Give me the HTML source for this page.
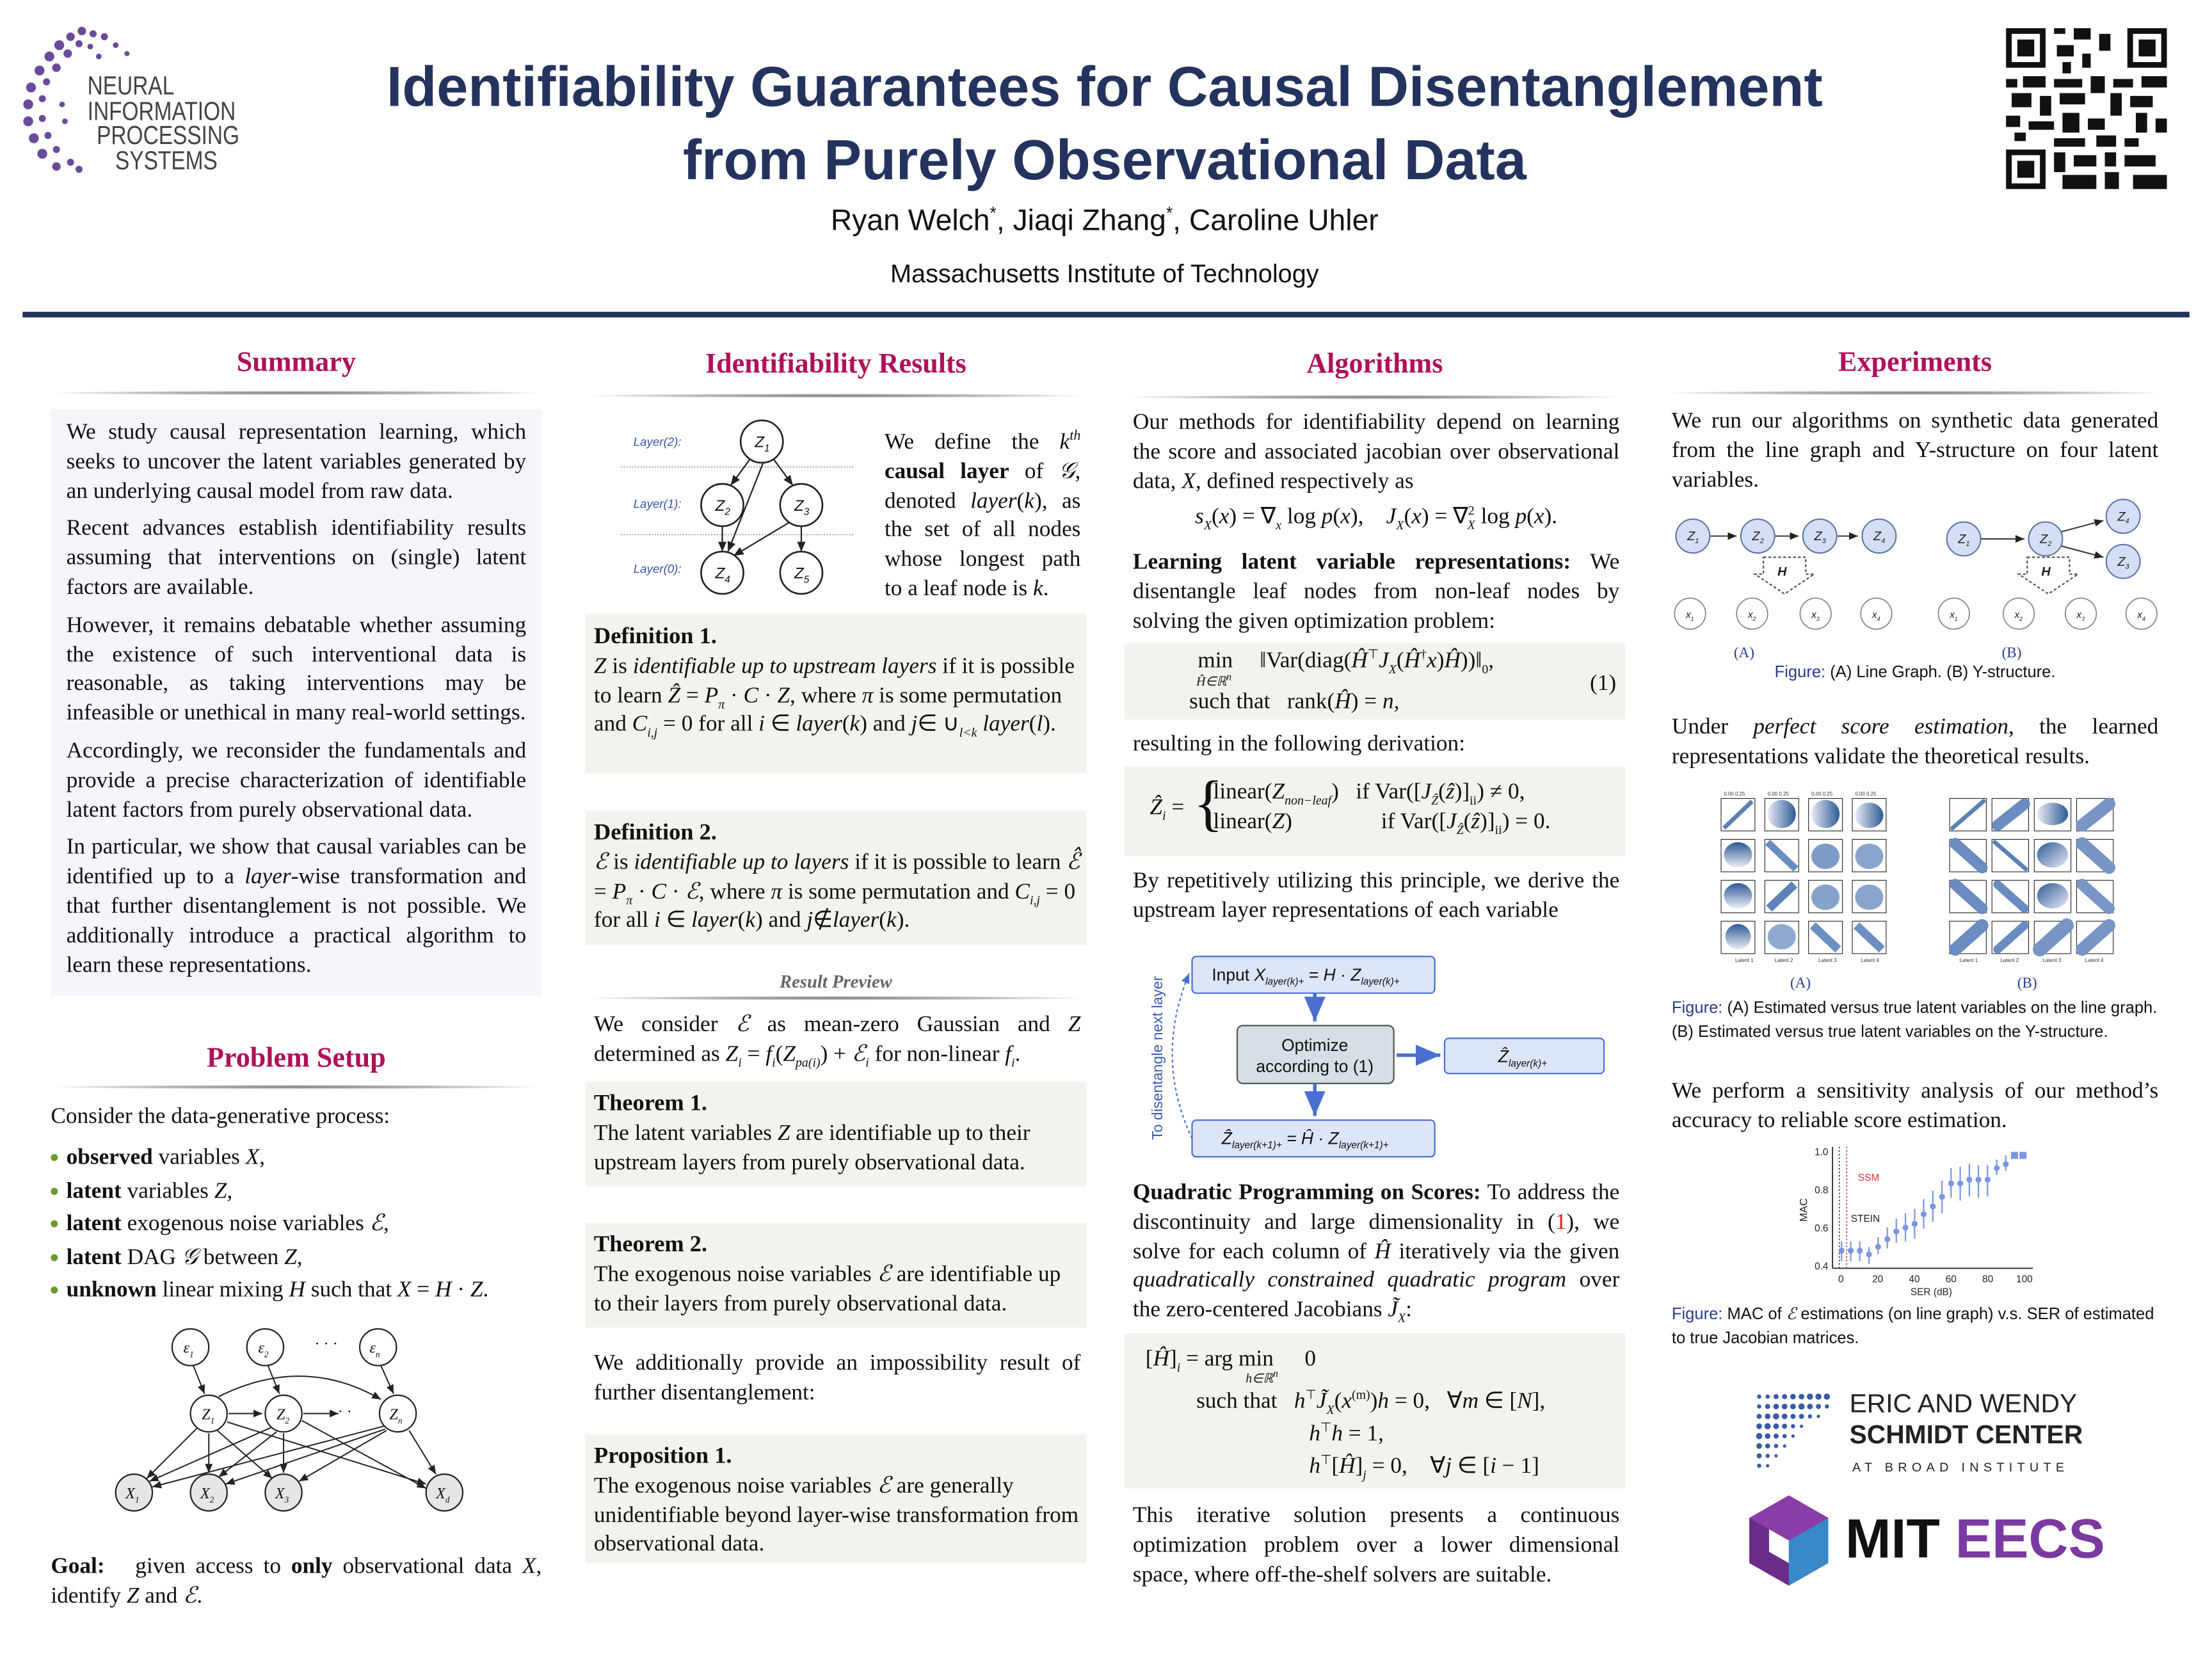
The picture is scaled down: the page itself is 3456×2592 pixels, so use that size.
<!DOCTYPE html>
<html><head><meta charset="utf-8">
<style>
html,body{margin:0;padding:0;background:#fff;}
body{width:3456px;height:2592px;overflow:hidden;position:relative;}
#p{position:absolute;left:0;top:0;width:1568px;height:1176px;transform:scale(2.2041);transform-origin:0 0;font-family:"Liberation Serif",serif;color:#111;}
.a{position:absolute;}
.t{font-family:"Liberation Serif",serif;font-size:16px;line-height:20.8px;text-align:justify;}
.t p{margin:0 0 6px 0;}
sub,sup{line-height:0;}
.h{position:absolute;font-family:"Liberation Serif",serif;font-weight:bold;color:#b0105a;font-size:20px;text-align:center;}
.sh{position:absolute;height:3px;border-radius:50%;background:radial-gradient(ellipse at center,#777 0%,#bbb 45%,rgba(255,255,255,0) 75%);}
.box{position:absolute;background:#f3f2ee;}
.sans{font-family:"Liberation Sans",sans-serif;}
.cap{font-family:"Liberation Sans",sans-serif;font-size:11.6px;line-height:16.5px;color:#111;}
.cap b{font-weight:normal;color:#2a3d8f;}
i{font-style:italic;}
</style></head><body><div id="p">

<svg class="a" style="left:0;top:0" width="1568" height="1176" viewBox="0 0 1568 1176">
<defs>
<marker id="ar" markerWidth="8" markerHeight="8" refX="7" refY="4" orient="auto"><path d="M0,1 L7,4 L0,7 z" fill="#222"/></marker>
<marker id="ab" markerWidth="8" markerHeight="8" refX="7" refY="4" orient="auto"><path d="M0,1 L7,4 L0,7 z" fill="#4a6fd0"/></marker>
<linearGradient id="g1" x1="0" y1="1" x2="0" y2="0"><stop offset="0" stop-color="#eceef6"/><stop offset="1" stop-color="#2d5a96"/></linearGradient>
<linearGradient id="g2" x1="0" y1="0" x2="1" y2="0"><stop offset="0" stop-color="#e8ebf5"/><stop offset="1" stop-color="#2d5a96"/></linearGradient>
<linearGradient id="g3" x1="0" y1="0" x2="1" y2="1"><stop offset="0" stop-color="#2d5a96"/><stop offset="1" stop-color="#e8ebf5"/></linearGradient>
</defs>
<g fill="#6b4a9a">
<circle cx="58" cy="22" r="3"/><circle cx="66" cy="24" r="2.5"/><circle cx="74" cy="26" r="2.5"/><circle cx="50" cy="26" r="3"/><circle cx="42" cy="32" r="3.5"/><circle cx="56" cy="31" r="2.5"/><circle cx="64" cy="33" r="2"/><circle cx="82" cy="32" r="2"/><circle cx="35" cy="40" r="3.5"/><circle cx="48" cy="38" r="3"/><circle cx="28" cy="50" r="3.5"/><circle cx="40" cy="48" r="3"/><circle cx="22" cy="62" r="3.5"/><circle cx="33" cy="58" r="2.5"/><circle cx="20" cy="74" r="3.5"/><circle cx="30" cy="70" r="2.5"/><circle cx="20" cy="86" r="3.5"/><circle cx="30" cy="84" r="2.5"/><circle cx="24" cy="98" r="3.5"/><circle cx="34" cy="96" r="2.5"/><circle cx="30" cy="109" r="3.5"/><circle cx="40" cy="106" r="2.5"/><circle cx="40" cy="118" r="3"/><circle cx="50" cy="115" r="2.5"/><circle cx="56" cy="120" r="2.5"/><circle cx="90" cy="38" r="1.8"/><circle cx="70" cy="40" r="2"/><circle cx="46" cy="86" r="2"/><circle cx="44" cy="74" r="2"/>
</g>
<g fill="#111">
<rect x="1422" y="20" width="28" height="28"/><rect x="1426" y="24" width="20" height="20" fill="#fff"/><rect x="1430" y="28" width="12" height="12"/>
<rect x="1508" y="20" width="28" height="28"/><rect x="1512" y="24" width="20" height="20" fill="#fff"/><rect x="1516" y="28" width="12" height="12"/>
<rect x="1422" y="106" width="28" height="28"/><rect x="1426" y="110" width="20" height="20" fill="#fff"/><rect x="1430" y="114" width="12" height="12"/>
<rect x="1456" y="20" width="8" height="4"/><rect x="1470" y="20" width="12" height="8"/><rect x="1488" y="24" width="8" height="12"/><rect x="1458" y="32" width="12" height="8"/><rect x="1476" y="38" width="6" height="10"/><rect x="1462" y="44" width="6" height="8"/>
<rect x="1422" y="56" width="8" height="6"/><rect x="1434" y="54" width="16" height="8"/><rect x="1456" y="56" width="20" height="6"/><rect x="1482" y="54" width="10" height="12"/><rect x="1498" y="56" width="14" height="6"/><rect x="1518" y="54" width="18" height="8"/>
<rect x="1426" y="66" width="14" height="10"/><rect x="1446" y="68" width="8" height="14"/><rect x="1460" y="66" width="18" height="8"/><rect x="1496" y="66" width="8" height="16"/><rect x="1510" y="68" width="16" height="8"/>
<rect x="1422" y="82" width="10" height="8"/><rect x="1438" y="86" width="18" height="6"/><rect x="1462" y="80" width="12" height="14"/><rect x="1480" y="84" width="12" height="8"/><rect x="1514" y="80" width="8" height="14"/><rect x="1528" y="84" width="8" height="10"/>
<rect x="1428" y="94" width="8" height="6"/><rect x="1456" y="98" width="22" height="6"/><rect x="1486" y="96" width="14" height="8"/><rect x="1506" y="98" width="10" height="6"/>
<rect x="1456" y="108" width="8" height="14"/><rect x="1470" y="110" width="16" height="8"/><rect x="1492" y="108" width="8" height="10"/><rect x="1506" y="110" width="22" height="8"/><rect x="1462" y="124" width="24" height="10"/><rect x="1492" y="122" width="10" height="12"/><rect x="1512" y="124" width="24" height="10"/>
</g>
<rect x="16" y="221" width="1536" height="4" fill="#24335e"/>

<g font-family="Liberation Sans,sans-serif" font-style="italic" font-size="8.5" fill="#3a56a0">
<text x="449" y="316">Layer(2):</text><text x="449" y="360">Layer(1):</text><text x="449" y="406">Layer(0):</text></g>
<line x1="440" y1="331" x2="605" y2="331" stroke="#8fa2d0" stroke-width="0.8" stroke-dasharray="1,1"/>
<line x1="440" y1="379" x2="605" y2="379" stroke="#8fa2d0" stroke-width="0.8" stroke-dasharray="1,1"/>
<g stroke="#222" stroke-width="1" fill="none" marker-end="url(#ar)">
<line x1="532" y1="325" x2="518" y2="344"/><line x1="548" y1="325" x2="562" y2="344"/><line x1="541" y1="328" x2="516" y2="391"/><line x1="512" y1="373" x2="512" y2="391"/><line x1="560" y1="370" x2="520" y2="394"/><line x1="568" y1="373" x2="568" y2="391"/></g>
<g fill="#fff" stroke="#222" stroke-width="1.2"><circle cx="540" cy="313" r="15"/><circle cx="512" cy="358" r="15"/><circle cx="568" cy="358" r="15"/><circle cx="512" cy="406" r="15"/><circle cx="568" cy="406" r="15"/></g>
<g font-family="Liberation Sans,sans-serif" font-style="italic" font-size="11" fill="#111">
<text x="535" y="317">Z<tspan font-size="7" dy="3">1</tspan></text><text x="507" y="362">Z<tspan font-size="7" dy="3">2</tspan></text><text x="563" y="362">Z<tspan font-size="7" dy="3">3</tspan></text><text x="507" y="410">Z<tspan font-size="7" dy="3">4</tspan></text><text x="563" y="410">Z<tspan font-size="7" dy="3">5</tspan></text></g>

<g stroke="#222" stroke-width="0.9" fill="none" marker-end="url(#ar)">
<line x1="137" y1="968" x2="145" y2="988"/><line x1="190" y1="968" x2="198" y2="988"/><line x1="270" y1="968" x2="279" y2="988"/>
<line x1="162" y1="1002" x2="186" y2="1002"/><path d="M155,990 Q215,960 270,992"/>
<line x1="215" y1="1002" x2="240" y2="1002"/>
<line x1="140" y1="1012" x2="104" y2="1048"/><line x1="148" y1="1016" x2="148" y2="1044"/><line x1="154" y1="1014" x2="193" y2="1048"/><line x1="161" y1="1008" x2="302" y2="1052"/>
<line x1="192" y1="1012" x2="106" y2="1050"/><line x1="196" y1="1015" x2="155" y2="1047"/><line x1="201" y1="1016" x2="201" y2="1044"/><line x1="214" y1="1007" x2="302" y2="1055"/>
<line x1="272" y1="1011" x2="108" y2="1054"/><line x1="273" y1="1013" x2="160" y2="1052"/><line x1="274" y1="1014" x2="212" y2="1050"/><line x1="290" y1="1014" x2="309" y2="1045"/>
</g>
<g fill="#fff" stroke="#222" stroke-width="1"><circle cx="135" cy="955" r="13"/><circle cx="188" cy="955" r="13"/><circle cx="268" cy="955" r="13"/><circle cx="148" cy="1002" r="13"/><circle cx="201" cy="1002" r="13"/><circle cx="282" cy="1002" r="13"/></g>
<g fill="#e6e6e6" stroke="#222" stroke-width="1"><circle cx="95" cy="1058" r="13"/><circle cx="148" cy="1058" r="13"/><circle cx="201" cy="1058" r="13"/><circle cx="315" cy="1058" r="13"/></g>
<g font-family="Liberation Serif,serif" font-style="italic" font-size="11" fill="#111">
<text x="130" y="959">ε<tspan font-size="6" dy="3">1</tspan></text><text x="183" y="959">ε<tspan font-size="6" dy="3">2</tspan></text><text x="262" y="959">ε<tspan font-size="6" dy="3">n</tspan></text><text x="223" y="956" font-style="normal">· · ·</text>
<text x="143" y="1006">Z<tspan font-size="6" dy="3">1</tspan></text><text x="196" y="1006">Z<tspan font-size="6" dy="3">2</tspan></text><text x="276" y="1006">Z<tspan font-size="6" dy="3">n</tspan></text><text x="233" y="1004" font-style="normal">· · ·</text>
<text x="89" y="1062">X<tspan font-size="6" dy="3">1</tspan></text><text x="142" y="1062">X<tspan font-size="6" dy="3">2</tspan></text><text x="195" y="1062">X<tspan font-size="6" dy="3">3</tspan></text><text x="309" y="1062">X<tspan font-size="6" dy="3">d</tspan></text></g>

<rect x="845" y="678" width="172" height="26" rx="3" fill="#dde6f8" stroke="#4a6fd0"/>
<rect x="877" y="727" width="111" height="41" rx="4" fill="#d6dfe3" stroke="#555"/>
<rect x="1024" y="736" width="113" height="25" rx="3" fill="#dde6f8" stroke="#4a6fd0"/>
<rect x="845" y="794" width="172" height="26" rx="3" fill="#dde6f8" stroke="#4a6fd0"/>
<g stroke="#4a6fd0" stroke-width="2.5" marker-end="url(#ab)"><line x1="932" y1="704" x2="932" y2="724"/><line x1="932" y1="768" x2="932" y2="791"/><line x1="990" y1="748" x2="1021" y2="748"/></g>
<path d="M845,807 Q818,750 843,690" fill="none" stroke="#4a6fd0" stroke-dasharray="2,2" marker-end="url(#ab)"/>
<text transform="translate(824,808) rotate(-90)" font-family="Liberation Sans,sans-serif" font-size="10.5" fill="#3a5ab8">To disentangle next layer</text>
<g font-family="Liberation Sans,sans-serif" font-size="12" fill="#111">
<text x="859" y="695">Input <tspan font-style="italic">X</tspan><tspan font-size="7" font-style="italic" dy="3">layer(k)+</tspan><tspan dy="-3"> = </tspan><tspan font-style="italic">H · Z</tspan><tspan font-size="7" font-style="italic" dy="3">layer(k)+</tspan></text>
<text x="932" y="745" text-anchor="middle">Optimize</text><text x="932" y="760" text-anchor="middle">according to (1)</text>
<text x="1062" y="753" font-style="italic">Ẑ<tspan font-size="7" dy="3">layer(k)+</tspan></text>
<text x="866" y="811" font-style="italic">Ẑ<tspan font-size="7" dy="3">layer(k+1)+</tspan><tspan dy="-3"> = Ĥ · Z</tspan><tspan font-size="7" dy="3">layer(k+1)+</tspan></text></g>

<g stroke="#333" stroke-width="0.9" marker-end="url(#ar)"><line x1="1212" y1="380" x2="1231" y2="380"/><line x1="1258" y1="380" x2="1275" y2="380"/><line x1="1302" y1="380" x2="1317" y2="380"/>
<line x1="1404" y1="382" x2="1435" y2="382"/><line x1="1461" y1="377" x2="1491" y2="369"/><line x1="1461" y1="387" x2="1491" y2="395"/></g>
<g fill="#d4def4" stroke="#5a6fa8" stroke-width="0.9"><circle cx="1200" cy="380" r="12"/><circle cx="1246" cy="380" r="12"/><circle cx="1290" cy="380" r="12"/><circle cx="1332" cy="380" r="12"/>
<circle cx="1392" cy="382" r="12"/><circle cx="1450" cy="382" r="12"/><circle cx="1505" cy="366" r="12"/><circle cx="1505" cy="398" r="12"/></g>
<g fill="#fff" stroke="#888" stroke-width="0.8"><circle cx="1198" cy="435" r="11"/><circle cx="1242" cy="435" r="11"/><circle cx="1287" cy="435" r="11"/><circle cx="1330" cy="435" r="11"/>
<circle cx="1385" cy="435" r="11"/><circle cx="1431" cy="435" r="11"/><circle cx="1475" cy="435" r="11"/><circle cx="1518" cy="435" r="11"/></g>
<path d="M1250,395 h30 v12 h6 l-21,14 l-21,-14 h6 z" fill="#fff" stroke="#555" stroke-dasharray="2,1.5"/>
<path d="M1437,395 h30 v12 h6 l-21,14 l-21,-14 h6 z" fill="#fff" stroke="#555" stroke-dasharray="2,1.5"/>
<g font-family="Liberation Sans,sans-serif" font-size="9" font-style="italic" fill="#222">
<text x="1196" y="383">Z<tspan font-size="5" dy="2">1</tspan></text><text x="1242" y="383">Z<tspan font-size="5" dy="2">2</tspan></text><text x="1286" y="383">Z<tspan font-size="5" dy="2">3</tspan></text><text x="1328" y="383">Z<tspan font-size="5" dy="2">4</tspan></text>
<text x="1388" y="385">Z<tspan font-size="5" dy="2">1</tspan></text><text x="1446" y="385">Z<tspan font-size="5" dy="2">2</tspan></text><text x="1501" y="369">Z<tspan font-size="5" dy="2">4</tspan></text><text x="1501" y="401">Z<tspan font-size="5" dy="2">3</tspan></text>
<text x="1260" y="408" font-weight="bold">H</text><text x="1447" y="408" font-weight="bold">H</text>
<text x="1195" y="438" font-size="7">x<tspan font-size="4" dy="2">1</tspan></text><text x="1239" y="438" font-size="7">x<tspan font-size="4" dy="2">2</tspan></text><text x="1284" y="438" font-size="7">x<tspan font-size="4" dy="2">3</tspan></text><text x="1327" y="438" font-size="7">x<tspan font-size="4" dy="2">4</tspan></text>
<text x="1382" y="438" font-size="7">x<tspan font-size="4" dy="2">1</tspan></text><text x="1428" y="438" font-size="7">x<tspan font-size="4" dy="2">2</tspan></text><text x="1472" y="438" font-size="7">x<tspan font-size="4" dy="2">3</tspan></text><text x="1515" y="438" font-size="7">x<tspan font-size="4" dy="2">4</tspan></text></g>
<g font-family="Liberation Serif,serif" font-size="10.5" fill="#2a3d8f"><text x="1229" y="466">(A)</text><text x="1419" y="466">(B)</text><text x="1269" y="700">(A)</text><text x="1430" y="700">(B)</text></g>

<g stroke="#222" stroke-width="0.5" fill="#fff">
<rect x="1220" y="566" width="24" height="23"/><rect x="1251" y="566" width="24" height="23"/><rect x="1282" y="566" width="24" height="23"/><rect x="1313" y="566" width="24" height="23"/>
<rect x="1220" y="595" width="24" height="23"/><rect x="1251" y="595" width="24" height="23"/><rect x="1282" y="595" width="24" height="23"/><rect x="1313" y="595" width="24" height="23"/>
<rect x="1220" y="624" width="24" height="23"/><rect x="1251" y="624" width="24" height="23"/><rect x="1282" y="624" width="24" height="23"/><rect x="1313" y="624" width="24" height="23"/>
<rect x="1220" y="653" width="24" height="23"/><rect x="1251" y="653" width="24" height="23"/><rect x="1282" y="653" width="24" height="23"/><rect x="1313" y="653" width="24" height="23"/>
</g>
<g>
<line x1="1222" y1="587" x2="1242" y2="568" stroke="#5a80b4" stroke-width="3"/>
<ellipse cx="1263" cy="577" rx="10" ry="10" fill="url(#g2)"/><ellipse cx="1294" cy="577" rx="10" ry="10" fill="url(#g2)"/><ellipse cx="1325" cy="578" rx="10" ry="9" fill="url(#g2)"/>
<ellipse cx="1232" cy="606" rx="10" ry="9" fill="url(#g1)"/><line x1="1253" y1="597" x2="1273" y2="616" stroke="#6a8cc0" stroke-width="5"/><ellipse cx="1294" cy="607" rx="10" ry="9" fill="#7f9cc8"/><ellipse cx="1325" cy="607" rx="10" ry="9" fill="#8aa5cc"/>
<ellipse cx="1232" cy="635" rx="10" ry="9" fill="url(#g1)"/><line x1="1254" y1="644" x2="1272" y2="627" stroke="#5f82b8" stroke-width="6"/><ellipse cx="1294" cy="636" rx="10" ry="9" fill="#86a2cb"/><ellipse cx="1325" cy="636" rx="10" ry="9" fill="#8aa5cc"/>
<ellipse cx="1232" cy="664" rx="9" ry="9" fill="url(#g1)"/><ellipse cx="1263" cy="664" rx="10" ry="9" fill="#90a9cf"/><line x1="1285" y1="656" x2="1303" y2="673" stroke="#6d8ec1" stroke-width="6"/><line x1="1316" y1="656" x2="1334" y2="673" stroke="#6d8ec1" stroke-width="6"/>
</g>
<g stroke="#222" stroke-width="0.5" fill="#fff">
<rect x="1382" y="566" width="26" height="23"/><rect x="1412" y="566" width="26" height="23"/><rect x="1442" y="566" width="26" height="23"/><rect x="1472" y="566" width="26" height="23"/>
<rect x="1382" y="595" width="26" height="23"/><rect x="1412" y="595" width="26" height="23"/><rect x="1442" y="595" width="26" height="23"/><rect x="1472" y="595" width="26" height="23"/>
<rect x="1382" y="624" width="26" height="23"/><rect x="1412" y="624" width="26" height="23"/><rect x="1442" y="624" width="26" height="23"/><rect x="1472" y="624" width="26" height="23"/>
<rect x="1382" y="653" width="26" height="23"/><rect x="1412" y="653" width="26" height="23"/><rect x="1442" y="653" width="26" height="23"/><rect x="1472" y="653" width="26" height="23"/>
</g>
<g stroke-linecap="round">
<line x1="1384" y1="587" x2="1406" y2="568" stroke="#5a80b4" stroke-width="3"/><line x1="1416" y1="585" x2="1435" y2="570" stroke="#6a8cc0" stroke-width="8"/><ellipse cx="1455" cy="577" rx="11" ry="8" fill="url(#g2)"/><line x1="1476" y1="585" x2="1495" y2="570" stroke="#7895c6" stroke-width="9"/>
<line x1="1386" y1="598" x2="1405" y2="615" stroke="#6a8cc0" stroke-width="8"/><line x1="1414" y1="597" x2="1436" y2="616" stroke="#5a80b4" stroke-width="3"/><ellipse cx="1455" cy="606" rx="11" ry="9" fill="url(#g3)"/><line x1="1476" y1="598" x2="1495" y2="615" stroke="#7895c6" stroke-width="9"/>
<line x1="1386" y1="627" x2="1405" y2="644" stroke="#6a8cc0" stroke-width="8"/><line x1="1416" y1="627" x2="1435" y2="644" stroke="#6a8cc0" stroke-width="6"/><ellipse cx="1455" cy="635" rx="11" ry="9" fill="url(#g3)"/><line x1="1476" y1="627" x2="1495" y2="644" stroke="#7895c6" stroke-width="8"/>
<line x1="1386" y1="673" x2="1405" y2="656" stroke="#6a8cc0" stroke-width="9"/><line x1="1416" y1="673" x2="1435" y2="656" stroke="#6a8cc0" stroke-width="6"/><line x1="1446" y1="673" x2="1465" y2="656" stroke="#7895c6" stroke-width="10"/><line x1="1476" y1="673" x2="1495" y2="656" stroke="#7895c6" stroke-width="9"/>
</g>
<g font-family="Liberation Sans,sans-serif" font-size="3.6" fill="#333">
<text x="1230" y="682">Latent 1</text><text x="1258" y="682">Latent 2</text><text x="1289" y="682">Latent 3</text><text x="1319" y="682">Latent 4</text>
<text x="1389" y="682">Latent 1</text><text x="1418" y="682">Latent 2</text><text x="1448" y="682">Latent 3</text><text x="1478" y="682">Latent 4</text>
<text x="1222" y="564">0.00 0.25</text><text x="1253" y="564">0.00 0.25</text><text x="1284" y="564">0.00 0.25</text><text x="1315" y="564">0.00 0.25</text></g>

<g font-family="Liberation Sans,sans-serif" font-size="7" fill="#222">
<line x1="1299" y1="813" x2="1299" y2="899" stroke="#222" stroke-width="0.8"/><line x1="1299" y1="899" x2="1441" y2="899" stroke="#222" stroke-width="0.8"/>
<text x="1296" y="819" text-anchor="end">1.0</text><text x="1296" y="846" text-anchor="end">0.8</text><text x="1296" y="873" text-anchor="end">0.6</text><text x="1296" y="900" text-anchor="end">0.4</text>
<text x="1305" y="909" text-anchor="middle">0</text><text x="1331" y="909" text-anchor="middle">20</text><text x="1357" y="909" text-anchor="middle">40</text><text x="1383" y="909" text-anchor="middle">60</text><text x="1409" y="909" text-anchor="middle">80</text><text x="1435" y="909" text-anchor="middle">100</text>
<text x="1369" y="918" text-anchor="middle">SER (dB)</text>
<text transform="translate(1281,866) rotate(-90)" font-size="7.5">MAC</text>
<text x="1317" y="837" fill="#d33">SSM</text><text x="1312" y="866">STEIN</text>
<line x1="1303.8" y1="813" x2="1303.8" y2="899" stroke="#333" stroke-width="0.8" stroke-dasharray="1,1.5"/>
<line x1="1309" y1="813" x2="1309" y2="899" stroke="#d33" stroke-width="0.8" stroke-dasharray="1,1.5"/>
</g>
<g stroke="#7b96e0" stroke-width="1" fill="#7b96e0">
<line x1="1305.4" y1="880" x2="1305.4" y2="894"/><circle cx="1305.4" cy="886.5" r="1.6"/>
<line x1="1311.9" y1="880" x2="1311.9" y2="894"/><circle cx="1311.9" cy="886.5" r="1.6"/>
<line x1="1318.3" y1="880" x2="1318.3" y2="894"/><circle cx="1318.3" cy="886.5" r="1.6"/>
<line x1="1324.8" y1="884" x2="1324.8" y2="896"/><circle cx="1324.8" cy="889.2" r="1.6"/>
<line x1="1331.3" y1="877" x2="1331.3" y2="889"/><circle cx="1331.3" cy="883.8" r="1.6"/>
<line x1="1337.8" y1="870" x2="1337.8" y2="885"/><circle cx="1337.8" cy="878.4" r="1.6"/>
<line x1="1344.2" y1="864" x2="1344.2" y2="881"/><circle cx="1344.2" cy="872.9" r="1.6"/>
<line x1="1350.7" y1="860" x2="1350.7" y2="880"/><circle cx="1350.7" cy="870.2" r="1.6"/>
<line x1="1357.2" y1="857" x2="1357.2" y2="878"/><circle cx="1357.2" cy="867.5" r="1.6"/>
<line x1="1363.6" y1="850" x2="1363.6" y2="871"/><circle cx="1363.6" cy="860.7" r="1.6"/>
<line x1="1370.1" y1="844" x2="1370.1" y2="866"/><circle cx="1370.1" cy="855.2" r="1.6"/>
<line x1="1376.6" y1="837" x2="1376.6" y2="860"/><circle cx="1376.6" cy="848.4" r="1.6"/>
<line x1="1383" y1="828" x2="1383" y2="849"/><circle cx="1383" cy="838.9" r="1.6"/>
<line x1="1389.5" y1="827" x2="1389.5" y2="851"/><circle cx="1389.5" cy="838.9" r="1.6"/>
<line x1="1396" y1="825" x2="1396" y2="848"/><circle cx="1396" cy="836.2" r="1.6"/>
<line x1="1402.4" y1="826" x2="1402.4" y2="849"/><circle cx="1402.4" cy="836.2" r="1.6"/>
<line x1="1408.9" y1="826" x2="1408.9" y2="848"/><circle cx="1408.9" cy="836.2" r="1.6"/>
<line x1="1415.4" y1="822" x2="1415.4" y2="833"/><circle cx="1415.4" cy="828" r="1.6"/>
<line x1="1421.8" y1="819" x2="1421.8" y2="830"/><circle cx="1421.8" cy="825.3" r="1.6"/>
<rect x="1426" y="817" width="4" height="4"/><rect x="1432" y="817" width="4" height="4"/>
</g>

<g fill="#3a5aa8">
<circle cx="1247" cy="990" r="1.5"/><circle cx="1253" cy="990" r="1.5"/><circle cx="1259" cy="990" r="1.8"/><circle cx="1265" cy="990" r="1.8"/><circle cx="1271" cy="990" r="2"/><circle cx="1277" cy="990" r="2"/><circle cx="1283" cy="990" r="2.2"/><circle cx="1289" cy="990" r="2.2"/><circle cx="1295" cy="990" r="2.2"/>
<circle cx="1247" cy="997" r="1.5"/><circle cx="1253" cy="997" r="1.8"/><circle cx="1259" cy="997" r="2"/><circle cx="1265" cy="997" r="2"/><circle cx="1271" cy="997" r="2"/><circle cx="1277" cy="997" r="2.2"/><circle cx="1283" cy="997" r="2"/><circle cx="1289" cy="997" r="1.8"/><circle cx="1295" cy="997" r="1.5"/>
<circle cx="1247" cy="1004" r="1.8"/><circle cx="1253" cy="1004" r="2"/><circle cx="1259" cy="1004" r="2.2"/><circle cx="1265" cy="1004" r="2"/><circle cx="1271" cy="1004" r="1.8"/><circle cx="1277" cy="1004" r="1.8"/><circle cx="1283" cy="1004" r="1.5"/><circle cx="1289" cy="1004" r="1.2"/>
<circle cx="1247" cy="1011" r="2"/><circle cx="1253" cy="1011" r="2.2"/><circle cx="1259" cy="1011" r="2"/><circle cx="1265" cy="1011" r="1.8"/><circle cx="1271" cy="1011" r="1.5"/><circle cx="1277" cy="1011" r="1.2"/>
<circle cx="1247" cy="1018" r="2.2"/><circle cx="1253" cy="1018" r="2"/><circle cx="1259" cy="1018" r="1.8"/><circle cx="1265" cy="1018" r="1.5"/><circle cx="1271" cy="1018" r="1.2"/>
<circle cx="1247" cy="1025" r="2"/><circle cx="1253" cy="1025" r="1.8"/><circle cx="1259" cy="1025" r="1.5"/><circle cx="1265" cy="1025" r="1.2"/>
<circle cx="1247" cy="1032" r="1.8"/><circle cx="1253" cy="1032" r="1.5"/><circle cx="1259" cy="1032" r="1.2"/><circle cx="1247" cy="1039" r="1.5"/><circle cx="1253" cy="1039" r="1.2"/>
</g>
<g font-family="Liberation Sans,sans-serif" fill="#222">
<text x="1311" y="1001" font-size="18.5">ERIC AND WENDY</text>
<text x="1311" y="1023" font-size="18.5" font-weight="bold">SCHMIDT CENTER</text>
<text x="1313" y="1043" font-size="9" letter-spacing="3.3">AT BROAD INSTITUTE</text>
</g>
<polygon points="1268,1060 1296,1076 1296,1108 1268,1124 1240,1108 1240,1076" fill="#6a2c8a"/>
<polygon points="1268,1060 1296,1076 1268,1092 1240,1076" fill="#8a3ca8"/>
<polygon points="1268,1092 1296,1076 1296,1108 1268,1124" fill="#3a88c8"/>
<polygon points="1254,1084 1268,1092 1268,1108 1254,1100" fill="#fff"/>
<text x="1308" y="1104" font-family="Liberation Sans,sans-serif" font-weight="bold" font-size="39" fill="#111">MIT <tspan fill="#7a3aa0">EECS</tspan></text>
</svg>

<div class="a sans" style="left:62px;top:52px;font-size:18.5px;line-height:17.5px;color:#444;transform:scaleX(0.82);transform-origin:0 0;white-space:nowrap;">NEURAL<br>INFORMATION<br><span style="margin-left:8px">PROCESSING</span><br><span style="margin-left:24px">SYSTEMS</span></div>
<div class="a sans" style="left:200px;top:36px;width:1166px;text-align:center;font-weight:bold;font-size:40px;line-height:52px;color:#24335e;">Identifiability Guarantees for Causal Disentanglement<br>from Purely Observational Data</div>
<div class="a sans" style="left:400px;top:145px;width:766px;text-align:center;font-size:21px;color:#111;">Ryan Welch<sup style="font-size:12px">*</sup>, Jiaqi Zhang<sup style="font-size:12px">*</sup>, Caroline Uhler</div>
<div class="a sans" style="left:400px;top:184px;width:766px;text-align:center;font-size:18px;color:#111;">Massachusetts Institute of Technology</div>

<div class="h" style="left:36px;top:246px;width:348px;">Summary</div><div class="sh" style="left:40px;top:277px;width:340px"></div>
<div class="h" style="left:415px;top:247px;width:355px;">Identifiability Results</div><div class="sh" style="left:420px;top:279px;width:345px"></div>
<div class="h" style="left:797px;top:247px;width:355px;">Algorithms</div><div class="sh" style="left:802px;top:280px;width:345px"></div>
<div class="h" style="left:1180px;top:246px;width:355px;">Experiments</div><div class="sh" style="left:1185px;top:277px;width:345px"></div>
<div class="h" style="left:36px;top:739px;width:348px;">Problem Setup</div><div class="sh" style="left:40px;top:769px;width:340px"></div>

<div class="a" style="left:36px;top:290px;width:348px;height:416px;background:#f5f5fc;"></div>
<div class="a t" style="left:47px;top:297px;width:326px;">
<p>We study causal representation learning, which seeks to uncover the latent variables generated by an underlying causal model from raw data.</p>
<p>Recent advances establish identifiability results assuming that interventions on (single) latent factors are available.</p>
<p>However, it remains debatable whether assuming the existence of such interventional data is reasonable, as taking interventions may be infeasible or unethical in many real-world settings.</p>
<p>Accordingly, we reconsider the fundamentals and provide a precise characterization of identifiable latent factors from purely observational data.</p>
<p>In particular, we show that causal variables can be identified up to a <i>layer</i>-wise transformation and that further disentanglement is not possible. We additionally introduce a practical algorithm to learn these representations.</p>
</div>
<div class="a t" style="left:36px;top:782px;width:348px;">Consider the data-generative process:</div>
<div class="a t" style="left:36px;top:809px;width:360px;line-height:23.5px;">
<div style="position:relative;padding-left:11px"><span style="position:absolute;left:0;top:9px;width:5px;height:5px;border-radius:50%;background:#6a9a2c"></span><b>observed</b> variables <i>X</i>,</div>
<div style="position:relative;padding-left:11px"><span style="position:absolute;left:0;top:9px;width:5px;height:5px;border-radius:50%;background:#6a9a2c"></span><b>latent</b> variables <i>Z</i>,</div>
<div style="position:relative;padding-left:11px"><span style="position:absolute;left:0;top:9px;width:5px;height:5px;border-radius:50%;background:#6a9a2c"></span><b>latent</b> exogenous noise variables <i>ℰ</i>,</div>
<div style="position:relative;padding-left:11px"><span style="position:absolute;left:0;top:9px;width:5px;height:5px;border-radius:50%;background:#6a9a2c"></span><b>latent</b> DAG <i>𝒢</i> between <i>Z</i>,</div>
<div style="position:relative;padding-left:11px"><span style="position:absolute;left:0;top:9px;width:5px;height:5px;border-radius:50%;background:#6a9a2c"></span><b>unknown</b> linear mixing <i>H</i> such that <i>X</i> = <i>H</i> · <i>Z</i>.</div>
</div>
<div class="a t" style="left:36px;top:1101px;width:348px;"><b>Goal:</b>&nbsp;&nbsp; given access to <b>only</b> observational data <i>X</i>, identify <i>Z</i> and <i>ℰ</i>.</div>

<div class="a t" style="left:627px;top:304px;width:139px;">We define the <i>k<sup style="font-size:10px">th</sup></i> <b>causal layer</b> of <i>𝒢</i>, denoted <i>layer</i>(<i>k</i>), as the set of all nodes whose longest path to a leaf node is <i>k</i>.</div>
<div class="box" style="left:415px;top:435px;width:355px;height:113px;"></div>
<div class="a t" style="left:421px;top:441px;width:345px;text-align:left;"><b style="font-size:16.5px">Definition 1.</b><br><i>Z</i> is <i>identifiable up to upstream layers</i> if it is possible to learn <i>Ẑ</i> = <i>P<sub style="font-size:9px">π</sub></i> · <i>C</i> · <i>Z</i>, where <i>π</i> is some permutation and <i>C<sub style="font-size:9px">i,j</sub></i> = 0 for all <i>i</i> ∈ <i>layer</i>(<i>k</i>) and <i>j</i>∈ ∪<sub style="font-size:9px"><i>l&lt;k</i></sub> <i>layer</i>(<i>l</i>).</div>
<div class="box" style="left:415px;top:575px;width:355px;height:95px;"></div>
<div class="a t" style="left:421px;top:580px;width:345px;text-align:left;"><b style="font-size:16.5px">Definition 2.</b><br><i>ℰ</i> is <i>identifiable up to layers</i> if it is possible to learn <i>ℰ̂</i> = <i>P<sub style="font-size:9px">π</sub></i> · <i>C</i> · <i>ℰ</i>, where <i>π</i> is some permutation and <i>C<sub style="font-size:9px">i,j</sub></i> = 0 for all <i>i</i> ∈ <i>layer</i>(<i>k</i>) and <i>j</i>∉<i>layer</i>(<i>k</i>).</div>
<div class="a" style="left:415px;top:688px;width:355px;text-align:center;font-style:italic;font-weight:bold;font-size:13px;color:#666;">Result Preview</div><div class="sh" style="left:420px;top:706px;width:345px"></div>
<div class="a t" style="left:421px;top:717px;width:345px;">We consider <i>ℰ</i> as mean-zero Gaussian and <i>Z</i> determined as <i>Z<sub style="font-size:9px">i</sub></i> = <i>f<sub style="font-size:9px">i</sub></i>(<i>Z<sub style="font-size:9px">pa(i)</sub></i>) + <i>ℰ<sub style="font-size:9px">i</sub></i> for non-linear <i>f<sub style="font-size:9px">i</sub></i>.</div>
<div class="box" style="left:415px;top:767px;width:355px;height:74px;"></div>
<div class="a t" style="left:421px;top:772px;width:345px;text-align:left;"><b style="font-size:16.5px">Theorem 1.</b><br>The latent variables <i>Z</i> are identifiable up to their upstream layers from purely observational data.</div>
<div class="box" style="left:415px;top:867px;width:355px;height:74px;"></div>
<div class="a t" style="left:421px;top:872px;width:345px;text-align:left;"><b style="font-size:16.5px">Theorem 2.</b><br>The exogenous noise variables <i>ℰ</i> are identifiable up to their layers from purely observational data.</div>
<div class="a t" style="left:421px;top:957px;width:345px;">We additionally provide an impossibility result of further disentanglement:</div>
<div class="box" style="left:415px;top:1017px;width:355px;height:91px;"></div>
<div class="a t" style="left:421px;top:1022px;width:345px;text-align:left;"><b style="font-size:16.5px">Proposition 1.</b><br>The exogenous noise variables <i>ℰ</i> are generally unidentifiable beyond layer-wise transformation from observational data.</div>

<div class="a t" style="left:803px;top:290px;width:345px;">Our methods for identifiability depend on learning the score and associated jacobian over observational data, <i>X</i>, defined respectively as</div>
<div class="a t" style="left:803px;top:357px;width:345px;text-align:center;"><i>s<sub style="font-size:9px">X</sub></i>(<i>x</i>) = ∇<sub style="font-size:9px"><i>x</i></sub> log <i>p</i>(<i>x</i>), &nbsp;&nbsp; <i>J<sub style="font-size:9px">X</sub></i>(<i>x</i>) = ∇<sup style="font-size:9px">2</sup><sub style="font-size:9px;margin-left:-5px"><i>X</i></sub> log <i>p</i>(<i>x</i>).</div>
<div class="a t" style="left:803px;top:389px;width:345px;"><b>Learning latent variable representations:</b> We disentangle leaf nodes from non-leaf nodes by solving the given optimization problem:</div>
<div class="box" style="left:797px;top:456px;width:355px;height:54px;"></div>
<div class="a t" style="left:849px;top:459px;text-align:left;">min</div>
<div class="a" style="left:848px;top:478px;font-size:9px;font-style:italic;">Ĥ∈ℝ<sup style="font-size:7px">n</sup></div>
<div class="a t" style="left:893px;top:459px;text-align:left;white-space:nowrap;">‖Var(diag(<i>Ĥ</i><sup style="font-size:9px">⊤</sup><i>J<sub style="font-size:9px">X</sub></i>(<i>Ĥ</i><sup style="font-size:9px">†</sup><i>x</i>)<i>Ĥ</i>))‖<sub style="font-size:9px">0</sub>,</div>
<div class="a t" style="left:843px;top:488px;text-align:left;white-space:nowrap;">such that &nbsp; rank(<i>Ĥ</i>) = <i>n</i>,</div>
<div class="a t" style="left:1127px;top:475px;">(1)</div>
<div class="a t" style="left:803px;top:518px;width:345px;">resulting in the following derivation:</div>
<div class="box" style="left:797px;top:543px;width:355px;height:64px;"></div>
<div class="a t" style="left:815px;top:563px;"><i>Ẑ<sub style="font-size:9px">i</sub></i> =</div>
<div class="a" style="left:846px;top:545px;font-size:44px;line-height:50px;font-family:'Liberation Serif',serif;font-weight:100;">{</div>
<div class="a t" style="left:860px;top:552px;text-align:left;white-space:nowrap;">linear(<i>Z<sub style="font-size:9px">non−leaf</sub></i>) &nbsp; if Var([<i>J<sub style="font-size:9px">Ẑ</sub></i>(<i>ẑ</i>)]<sub style="font-size:9px">ii</sub>) ≠ 0,<br>linear(<i>Z</i>)<span style="display:inline-block;width:63px"></span>if Var([<i>J<sub style="font-size:9px">Ẑ</sub></i>(<i>ẑ</i>)]<sub style="font-size:9px">ii</sub>) = 0.</div>
<div class="a t" style="left:803px;top:615px;width:345px;">By repetitively utilizing this principle, we derive the upstream layer representations of each variable</div>
<div class="a t" style="left:803px;top:836px;width:345px;"><b>Quadratic Programming on Scores:</b> To address the discontinuity and large dimensionality in (<span style="color:#d22">1</span>), we solve for each column of <i>Ĥ</i> iteratively via the given <i>quadratically constrained quadratic program</i> over the zero-centered Jacobians <i>J̃<sub style="font-size:9px">X</sub></i>:</div>
<div class="box" style="left:797px;top:945px;width:355px;height:110px;"></div>
<div class="a t" style="left:812px;top:954px;text-align:left;white-space:nowrap;">[<i>Ĥ</i>]<sub style="font-size:9px"><i>i</i></sub> = arg min<span style="display:inline-block;width:22px"></span>0</div>
<div class="a" style="left:883px;top:972px;font-size:9px;font-style:italic;">h∈ℝ<sup style="font-size:7px">n</sup></div>
<div class="a t" style="left:848px;top:984px;text-align:left;white-space:nowrap;">such that&nbsp;&nbsp; <i>h</i><sup style="font-size:9px">⊤</sup><i>J̃<sub style="font-size:9px">X</sub></i>(<i>x</i><sup style="font-size:9px">(m)</sup>)<i>h</i> = 0, &nbsp; ∀<i>m</i> ∈ [<i>N</i>],</div>
<div class="a t" style="left:928px;top:1007px;text-align:left;white-space:nowrap;"><i>h</i><sup style="font-size:9px">⊤</sup><i>h</i> = 1,</div>
<div class="a t" style="left:928px;top:1030px;text-align:left;white-space:nowrap;"><i>h</i><sup style="font-size:9px">⊤</sup>[<i>Ĥ</i>]<sub style="font-size:9px"><i>j</i></sub> = 0, &nbsp;&nbsp; ∀<i>j</i> ∈ [<i>i</i> − 1]</div>
<div class="a t" style="left:803px;top:1065px;width:345px;">This iterative solution presents a continuous optimization problem over a lower dimensional space, where off-the-shelf solvers are suitable.</div>

<div class="a t" style="left:1185px;top:289px;width:345px;">We run our algorithms on synthetic data generated from the line graph and Y-structure on four latent variables.</div>
<div class="a cap" style="left:1180px;top:469px;width:355px;text-align:center;"><b>Figure:</b> (A) Line Graph. (B) Y-structure.</div>
<div class="a t" style="left:1185px;top:506px;width:345px;">Under <i>perfect score estimation</i>, the learned representations validate the theoretical results.</div>
<div class="a cap" style="left:1185px;top:707px;width:345px;"><b>Figure:</b> (A) Estimated versus true latent variables on the line graph. (B) Estimated versus true latent variables on the Y-structure.</div>
<div class="a t" style="left:1185px;top:764px;width:345px;">We perform a sensitivity analysis of our method’s accuracy to reliable score estimation.</div>
<div class="a cap" style="left:1185px;top:924px;width:345px;"><b>Figure:</b> MAC of <i>ℰ</i> estimations (on line graph) v.s. SER of estimated to true Jacobian matrices.</div>

</div></body></html>
